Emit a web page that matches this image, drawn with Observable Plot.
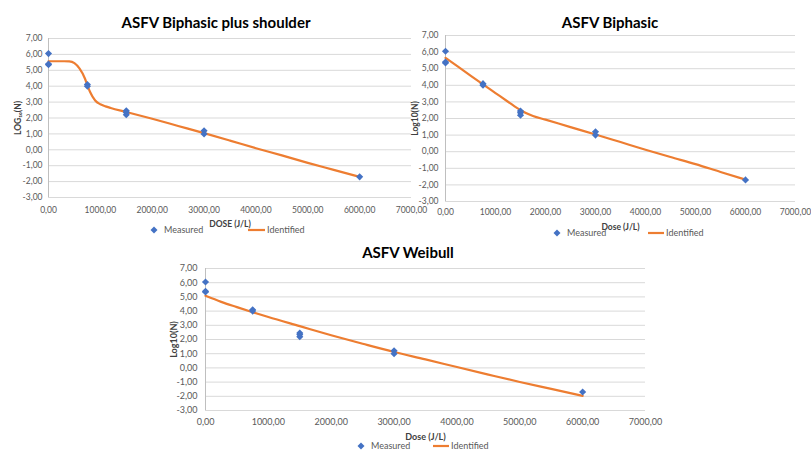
<!DOCTYPE html>
<html><head><meta charset="utf-8">
<script src="https://cdn.jsdelivr.net/npm/d3@7"></script>
<script src="https://cdn.jsdelivr.net/npm/@observablehq/plot@0.6"></script>
<style>
html,body{margin:0;padding:0;background:#fff;}
body{width:811px;height:452px;position:relative;overflow:hidden;font-family:Lato,"Open Sans",sans-serif;}
.abs{position:absolute;}
.title{font-weight:bold;font-size:15px;color:#000;transform:translate(-50%,-50%);white-space:nowrap;}
.leg{font-size:9px;color:#595959;white-space:nowrap;transform:translateY(-50%);line-height:10px;}
svg.plot{position:absolute;overflow:visible;}
</style>
</head><body>
<script>
// Measured data (same for all three models)
const measuredDose = [0, 0, 0, 750, 750, 1500, 1500, 1500, 3000, 3000, 6000];
const measuredLog  = [6.05, 5.35, 5.4, 4.1, 4.0, 2.45, 2.35, 2.2, 1.2, 1.0, -1.7];

// Identified model curves
const shoulderDose = [0, 100, 200, 300, 400, 500, 600, 700, 750, 800, 900, 1000, 1100, 1200, 1500, 2000, 2500, 3000, 3500, 4000, 4500, 5000, 5500, 6000];
const shoulderLog  = [5.57, 5.57, 5.57, 5.57, 5.56, 5.45, 5.1, 4.5, 4.05, 3.65, 3.1, 2.86, 2.73, 2.63, 2.38, 1.95, 1.5, 1.05, 0.58, 0.1, -0.35, -0.82, -1.26, -1.7];

const biphasicDose = [0, 250, 500, 750, 1000, 1250, 1500, 1750, 2000, 2500, 3000, 3500, 4000, 4500, 5000, 5500, 6000];
const biphasicLog  = [5.65, 5.12, 4.58, 4.05, 3.53, 3.01, 2.5, 2.15, 1.93, 1.48, 1.04, 0.58, 0.12, -0.32, -0.75, -1.22, -1.68];

const weibullDose = [0, 250, 500, 750, 1000, 1500, 2000, 2500, 3000, 3500, 4000, 4500, 5000, 5500, 6000];
const weibullLog  = [5.08, 4.65, 4.28, 3.92, 3.58, 2.94, 2.3, 1.7, 1.12, 0.6, 0.06, -0.47, -0.99, -1.48, -1.97];

const yTicks = [-3, -2, -1, 0, 1, 2, 3, 4, 5, 6, 7];
const xTicks = [0, 1000, 2000, 3000, 4000, 5000, 6000, 7000];

const measured = measuredDose.map((d, i) => ({dose: d, log: measuredLog[i]}));
const toRows = (xs, ys) => xs.map((d, i) => ({dose: d, log: ys[i]}));

const fmt = d => d.toFixed(2).replace(".", ",");
const BLUE = "#4472C4", ORANGE = "#ED7D31";

function addDiv(cls, text, x, y) {
  const el = document.createElement("div");
  el.className = "abs " + cls;
  el.textContent = text;
  el.style.left = x + "px";
  el.style.top = y + "px";
  document.body.appendChild(el);
  return el;
}

function legend(y, mx, tx, lx1, lx2, tx2) {
  const ns = "http://www.w3.org/2000/svg";
  const s = document.createElementNS(ns, "svg");
  s.setAttribute("width", 811); s.setAttribute("height", 12);
  s.style.position = "absolute"; s.style.left = "0px"; s.style.top = (y - 6) + "px";
  s.innerHTML = `<path d="M${mx},2.5 L${mx+3.5},6 L${mx},9.5 L${mx-3.5},6Z" fill="${BLUE}"/>` +
    `<line x1="${lx1}" x2="${lx2}" y1="6" y2="6" stroke="${ORANGE}" stroke-width="2.2"/>`;
  document.body.appendChild(s);
  addDiv("leg", "Measured", tx, y);
  addDiv("leg", "Identified", tx2, y);
}

function panel(o) {
  const chart = Plot.plot({
    width: o.w, height: o.h,
    marginLeft: o.ml, marginRight: o.mr, marginTop: o.mt, marginBottom: o.mb,
    style: {fontFamily: "Lato, 'Open Sans', sans-serif", fontSize: o.fs || "9px", color: "#595959", background: "transparent", overflow: "visible"},
    x: {domain: [0, 7000]},
    y: {domain: [-3, 7]},
    marks: [
      Plot.gridY(yTicks, {stroke: "#d9d9d9", strokeOpacity: 1, strokeWidth: 1}),
      Plot.ruleX([0], {stroke: "#bfbfbf", strokeWidth: 1}),
      Plot.axisY(yTicks, {tickSize: 0, tickPadding: o.ytp, tickFormat: fmt, label: o.ylabel, labelAnchor: "center", labelOffset: o.ylo, labelArrow: "none", fill: "#595959"}),
      Plot.axisX(xTicks, {tickSize: 0, tickPadding: o.xtp, tickFormat: fmt, label: o.xlabel, labelAnchor: "center", labelOffset: o.xlo, labelArrow: "none", fill: "#595959"}),
      Plot.line(o.curve, {x: "dose", y: "log", stroke: ORANGE, strokeWidth: 2.2, curve: "monotone-x"}),
      Plot.dot(measured, {x: "dose", y: "log", symbol: "diamond2", r: 3.2, fill: BLUE, stroke: "none"})
    ]
  });
  chart.classList.add("plot");
  chart.style.left = o.left + "px";
  chart.style.top = o.top + "px";
  chart.querySelectorAll('[aria-label="x-axis label"] text, [aria-label="y-axis label"] text').forEach(t => {
    t.style.fontWeight = "bold"; t.style.fill = "#404040";
  });
  document.body.appendChild(chart);
  addDiv("title", o.title, o.tx, o.ty);
  legend(o.legY, o.mx, o.mtx, o.lx1, o.lx2, o.ltx);
}

panel({left: 0, top: 28, w: 420, h: 205, ml: 48, mr: 9, mt: 10, mb: 36, ytp: 6, xtp: 9, ylo: 34, xlo: 29, fs: "8.5px",
  xlabel: "DOSE (J/L)", ylabel: "LOG₁₀(N)", curve: toRows(shoulderDose, shoulderLog),
  title: "ASFV Biphasic plus shoulder", tx: 216, ty: 22,
  legY: 230, mx: 154, mtx: 164, lx1: 248, lx2: 265, ltx: 267});

panel({left: 405, top: 25, w: 406, h: 215, ml: 40, mr: 16, mt: 10, mb: 39, ytp: 7, xtp: 7, ylo: 34, xlo: 28, fs: "8.5px",
  xlabel: "Dose (J/L)", ylabel: "Log10(N)", curve: toRows(biphasicDose, biphasicLog),
  title: "ASFV Biphasic", tx: 610, ty: 22,
  legY: 233, mx: 557, mtx: 567, lx1: 648, lx2: 664, ltx: 666});

panel({left: 160, top: 258, w: 500, h: 185, ml: 45, mr: 15, mt: 10, mb: 33, ytp: 8, xtp: 8, ylo: 35, xlo: 29,
  xlabel: "Dose (J/L)", ylabel: "Log10(N)", curve: toRows(weibullDose, weibullLog),
  title: "ASFV Weibull", tx: 408, ty: 252,
  legY: 446, mx: 361, mtx: 371, lx1: 433, lx2: 449, ltx: 451});
</script>
</body></html>
